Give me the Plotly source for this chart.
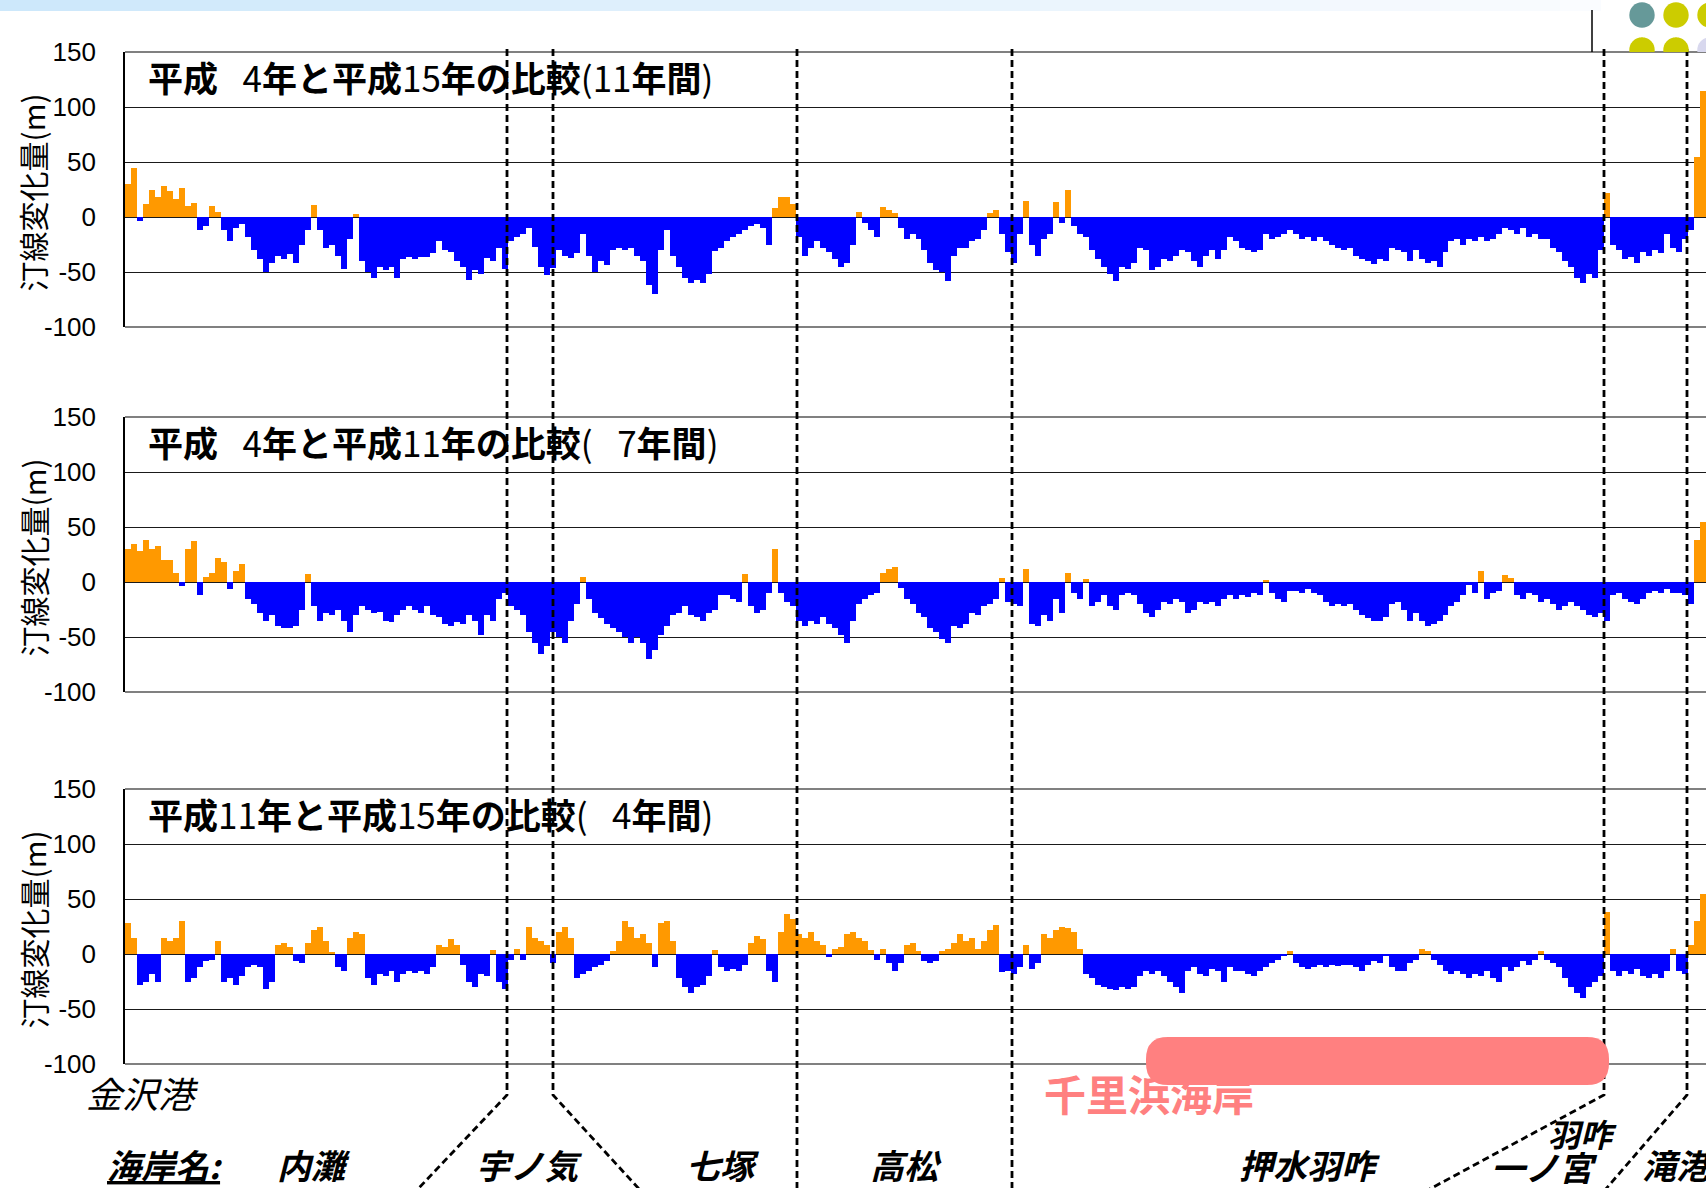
import numpy as np
import plotly.graph_objects as go

W, H = 1706, 1188

# ---------------- data ----------------
panel_titles = [
    "<b>平成</b>\u2002\u20094<b>年と平成</b>15<b>年の比較</b>(11<b>年間</b>)",
    "<b>平成</b>\u2002\u20094<b>年と平成</b>11<b>年の比較</b>(\u2002\u20097<b>年間</b>)",
    "<b>平成</b>11<b>年と平成</b>15<b>年の比較</b>(\u2002\u20094<b>年間</b>)",
]
y_title = "汀線変化量(m)"
y_ticks = [-100, -50, 0, 50, 100, 150]
y_tick_text = ["-100", "-50", "0", "50", "100", "150"]

# shoreline change (m) along the coast, Kanazawa port -> Takinominato
change_h4_h15 = [
    30, 45, -4, 12, 25, 18, 28, 24, 16, 26,
    10, 13, -12, -8, 10, 5, -12, -22, -10, -6,
    -18, -30, -38, -50, -42, -35, -38, -34, -42, -25,
    -12, 11, -12, -28, -25, -35, -47, -20, 3, -40,
    -50, -55, -45, -48, -45, -55, -38, -36, -38, -36,
    -36, -33, -22, -30, -32, -40, -45, -57, -48, -52,
    -37, -40, -28, -47, -22, -18, -15, -10, -27, -45,
    -53, -46, -30, -35, -37, -33, -15, -35, -50, -40,
    -44, -30, -28, -30, -28, -35, -40, -62, -70, -30,
    -12, -35, -45, -55, -60, -57, -60, -52, -31, -28,
    -22, -18, -15, -12, -8, -6, -10, -25, 8, 18,
    18, 12, -18, -35, -28, -22, -28, -32, -38, -45,
    -42, -25, 5, -5, -12, -18, 9, 6, 4, -10,
    -20,
    -15, -20, -30, -42, -48, -50, -58, -35, -28, -28,
    -22, -20, -12, 4, 6, -15, -32, -42, -15, 15,
    -25, -35, -20, -15, 14, -5, 25, -8, -15, -18,
    -30, -38, -45, -52, -58, -45, -47, -42, -28, -30,
    -48, -45, -38, -40, -35, -30, -32, -40, -45, -35,
    -30, -38, -30, -18, -22, -28, -30, -32, -30, -15,
    -20, -18, -15, -12, -15, -20, -18, -22, -18, -22,
    -25, -28, -30, -28, -35, -38, -40, -43, -38, -40,
    -28, -30, -32, -40, -30, -38, -42, -40, -45, -32,
    -22, -20, -25, -20, -22, -18, -22, -20, -15, -10,
    -12, -15, -10, -18, -15, -20, -20, -28, -32, -40,
    -45, -55, -60, -52, -55, -30, 22, -25, -30, -38,
    -36, -42, -32, -35, -30, -33, -15, -28, -32, -20,
    -12, 55, 115,
]

change_h4_h11 = [
    30, 35, 28, 38, 30, 33, 20, 20, 8, -4,
    30, 37, -12, 5, 8, 22, 18, -6, 10, 16,
    -15, -20, -28, -35, -30, -40, -42, -42, -40, -25,
    7, -22, -35, -28, -30, -25, -35, -45, -30, -22,
    -25, -28, -27, -35, -36, -30, -25, -22, -25, -28,
    -22, -30, -32, -38, -40, -36, -38, -30, -35, -48,
    -30, -35, -15, -10, -22, -25, -30, -45, -55, -65,
    -58, -45, -50, -55, -35, -20, 5, -15, -28, -33,
    -38, -42, -45, -50, -55, -50, -55, -70, -62, -48,
    -40, -30, -28, -22, -30, -32, -35, -28, -25, -12,
    -12, -15, -18, 7, -22, -28, -25, -10, 30, -10,
    -18, -22, -35, -40, -35, -38, -32, -38, -42, -48,
    -55, -35, -20, -15, -12, -10, 8, 12, 14, -5,
    -15,
    -20, -28, -32, -42, -45, -52, -55, -40, -42, -38,
    -28, -30, -22, -20, -15, 4, -18, -20, -22, 12,
    -38, -40, -30, -35, -15, -28, 8, -10, -15, 3,
    -22, -18, -12, -22, -25, -12, -10, -12, -20, -28,
    -32, -25, -18, -20, -15, -18, -28, -25, -18, -20,
    -18, -22, -15, -12, -15, -12, -14, -10, -12, 2,
    -10, -15, -18, -8, -8, -10, -6, -10, -12, -18,
    -22, -20, -22, -20, -25, -30, -33, -35, -35, -32,
    -20, -18, -25, -35, -28, -35, -40, -38, -35, -30,
    -22, -18, -12, -3, -10, 10, -15, -10, -8, 6,
    4, -12, -15, -10, -12, -18, -15, -20, -25, -22,
    -18, -22, -25, -30, -32, -28, -35, -12, -10, -15,
    -18, -20, -15, -10, -8, -10, -6, -10, -10, -12,
    -20, 38, 55,
]

change_h11_h15 = [
    28, 15, -28, -25, -18, -25, 15, 12, 15, 30,
    -25, -22, -12, -6, -5, 12, -25, -22, -28, -20,
    -12, -10, -12, -32, -25, 8, 10, 6, -6, -8,
    10, 22, 25, 12, 2, -12, -15, 15, 20, 18,
    -22, -28, -18, -20, -15, -25, -18, -15, -17, -15,
    -18, -12, 8, 6, 14, 8, -10, -25, -30, -18,
    -20, 4, -25, -32, -5, 5, -5, 25, 15, 12,
    8, -8, 20, 25, 15, -22, -18, -15, -12, -10,
    -6, 3, 12, 30, 25, 15, 18, 10, -12, 28,
    30, 12, -22, -30, -35, -30, -28, -20, 4, -12,
    -15, -14, -15, -10, 10, 16, 14, -15, -25, 20,
    36, 32, 18, 15, 20, 12, 8, -3, 5, 6,
    18, 20, 15, 12, 4, -5, 5, -8, -15, -8,
    8,
    10, 3, -6, -8, -6, 3, 5, 10, 18, 12,
    15, 5, 12, 22, 26, -16, -15, -18, -12, 8,
    -14, -8, 18, 15, 22, 25, 24, 20, 5, -18,
    -22, -28, -30, -32, -33, -30, -32, -30, -20, -15,
    -18, -15, -20, -25, -30, -35, -15, -12, -18, -20,
    -14, -15, -25, -12, -15, -15, -18, -20, -15, -12,
    -8, -5, -2, 3, -8, -12, -14, -12, -10, -12,
    -10, -11, -10, -10, -12, -15, -10, -6, -8, -2,
    -12, -15, -15, -8, -5, 5, 3, -5, -10, -15,
    -18, -15, -18, -22, -18, -20, -15, -22, -25, -12,
    -15, -12, -6, -10, -5, 3, -5, -8, -12, -22,
    -30, -35, -40, -30, -25, -20, 38, -15, -20, -15,
    -18, -14, -20, -22, -18, -22, -15, 5, -15, -18,
    8, 30, 55,
]

series = [change_h4_h15, change_h4_h11, change_h11_h15]

port_label = "金沢港"
beach_label = "千里浜海岸"
coast_header = "海岸名:"
coast_names = ["内灘", "宇ノ気", "七塚", "高松", "押水羽咋", "一ノ宮", "滝港"]
coast_sub = "羽咋"

# ---------------- styling / geometry ----------------
ORANGE = "#FF9900"
BLUE = "#0000FF"
PINK = "#FF8080"
JP = "Noto Sans CJK JP"
LAT = "Liberation Sans"

X_LEFT = 125
panels_px = [(52, 327), (417, 692), (789, 1064)]


def fx(px):
    return px / W


def fy(py):
    return 1 - py / H


def P(a, b):
    return f"{fx(a):.5f},{fy(b):.5f}"


fig = go.Figure()
layout = dict(
    width=W, height=H, autosize=False,
    margin=dict(l=0, r=0, t=0, b=0, pad=0, autoexpand=False),
    paper_bgcolor="white", plot_bgcolor="white",
    bargap=0, showlegend=False,
)
annotations = []
shapes = []

# top gradient band
nstrip = 40
for k in range(nstrip):
    t = k / (nstrip - 1)
    r = int(205 + (250 - 205) * t)
    g = int(232 + (252 - 232) * t)
    b = int(251 + (255 - 251) * t)
    shapes.append(dict(type="rect", xref="paper", yref="paper",
                       x0=fx(k * 1600 / nstrip), x1=fx((k + 1) * 1600 / nstrip + 1),
                       y0=fy(11), y1=fy(0), line=dict(width=0),
                       fillcolor=f"rgb({r},{g},{b})", layer="below"))

for p, (vals, (top, bot)) in enumerate(zip(series, panels_px)):
    n = len(vals)
    sfx = "" if p == 0 else str(p + 1)
    colors = [ORANGE if v >= 0 else BLUE for v in vals]
    fig.add_trace(go.Bar(x=list(range(n)), y=vals, marker=dict(color=colors, line=dict(width=0)),
                         xaxis="x" + sfx, yaxis="y" + sfx, hoverinfo="skip"))
    layout["xaxis" + sfx] = dict(domain=[fx(X_LEFT), 1], range=[-0.5, n - 0.5],
                                 showticklabels=False, showgrid=False, zeroline=False,
                                 showline=False, ticks="", anchor="y" + sfx, automargin=False)
    layout["yaxis" + sfx] = dict(domain=[fy(bot), fy(top)], range=[-100, 150],
                                 tickvals=y_ticks, ticktext=y_tick_text,
                                 tickfont=dict(family=LAT, size=26, color="black"),
                                 showgrid=True, gridcolor="#1a1a1a", gridwidth=1.2,
                                 zeroline=False, showline=True, linecolor="black", linewidth=1.6,
                                 ticks="", ticklabelstandoff=22, anchor="x" + sfx, automargin=False)
    for yy in (top, bot):
        shapes.append(dict(type="line", xref="paper", yref="paper",
                           x0=fx(X_LEFT), x1=1, y0=fy(yy), y1=fy(yy),
                           line=dict(color="#808080", width=2.2), layer="above"))
    annotations.append(dict(text=panel_titles[p], xref="paper", yref="paper",
                            x=fx(146), y=fy(top + 24), xanchor="left", yanchor="middle",
                            showarrow=False,
                            font=dict(family=JP, size=35, color="black")))
    annotations.append(dict(text=y_title, xref="paper", yref="paper",
                            x=fx(32), y=fy((top + bot) / 2 + 3), xanchor="center", yanchor="middle",
                            textangle=-90, showarrow=False,
                            font=dict(family=JP, size=30, color="black")))

# dashed coast boundaries
dash_paths = [
    [(507, 49), (507, 1095), (417, 1190)],
    [(553, 49), (553, 1095), (640, 1190)],
    [(797, 49), (797, 1190)],
    [(1012, 49), (1012, 1190)],
    [(1604, 49), (1604, 1095), (1428, 1190)],
    [(1687, 49), (1687, 1095), (1605, 1190)],
]
for pts in dash_paths:
    path = "M " + " L ".join(P(a, b) for a, b in pts)
    shapes.append(dict(type="path", xref="paper", yref="paper", path=path,
                       line=dict(color="black", width=2.8, dash="7px,4px"), layer="above"))

# pink rounded bar
x0, x1, y0, y1, rr = 1146, 1609, 1037, 1085, 22
rpath = (f"M {P(x0 + rr, y0)} L {P(x1 - rr, y0)} Q {P(x1, y0)} {P(x1, y0 + rr)} "
         f"L {P(x1, y1 - rr)} Q {P(x1, y1)} {P(x1 - rr, y1)} L {P(x0 + rr, y1)} "
         f"Q {P(x0, y1)} {P(x0, y1 - rr)} L {P(x0, y0 + rr)} Q {P(x0, y0)} {P(x0 + rr, y0)} Z")
shapes.append(dict(type="path", xref="paper", yref="paper", path=rpath,
                   fillcolor=PINK, line=dict(width=0), layer="above"))

# decorative circles top-right
shapes.append(dict(type="line", xref="paper", yref="paper", x0=fx(1592), x1=fx(1592),
                   y0=fy(10), y1=fy(52), line=dict(color="black", width=1.5)))
R = 12.7
for cx, cy, col in [(1642, 15, "#669999"), (1676, 15, "#CCCC00"), (1710, 15, "#CCCC00")]:
    shapes.append(dict(type="circle", xref="paper", yref="paper",
                       x0=fx(cx - R), x1=fx(cx + R), y0=fy(cy + R), y1=fy(cy - R),
                       fillcolor=col, line=dict(width=0), layer="above"))
for cx, cy, col in [(1642, 50, "#CCCC00"), (1676, 50, "#CCCC00"), (1710, 50, "#D8D8EE")]:
    ycut = 52
    a0 = np.arcsin(min(1, (ycut - cy) / R))
    angs = np.linspace(np.pi - a0, 2 * np.pi + a0, 40)
    pts = [(cx + R * np.cos(a), cy + R * np.sin(a)) for a in angs]
    path = "M " + " L ".join(P(a, b) for a, b in pts) + " Z"
    shapes.append(dict(type="path", xref="paper", yref="paper", path=path,
                       fillcolor=col, line=dict(width=0), layer="above"))

# bottom texts
annotations.append(dict(text=port_label, xref="paper", yref="paper", x=fx(142), y=fy(1092),
                        xanchor="center", yanchor="middle", showarrow=False,
                        font=dict(family=JP, size=36, color="black", style="italic")))
annotations.append(dict(text=beach_label, xref="paper", yref="paper", x=fx(1042), y=fy(1092),
                        xanchor="left", yanchor="middle", showarrow=False,
                        font=dict(family=JP, size=42, color=PINK, weight="bold")))
lab_font = dict(family=JP, size=34, color="black", weight="bold", style="italic")
ROW = 1164
annotations.append(dict(text="<u>" + coast_header + "</u>", xref="paper", yref="paper",
                        x=fx(105), y=fy(ROW), xanchor="left", yanchor="middle",
                        showarrow=False, font=lab_font))
name_pos = [(314, ROW, "center"), (529, ROW, "center"), (722, ROW, "center"),
            (906, ROW, "center"), (1309, ROW, "center"), (1544, ROW + 2, "center"),
            (1640, ROW, "left")]
for name, (xx, yy, anc) in zip(coast_names, name_pos):
    annotations.append(dict(text=name, xref="paper", yref="paper", x=fx(xx), y=fy(yy),
                            xanchor=anc, yanchor="middle", showarrow=False, font=lab_font))
annotations.append(dict(text=coast_sub, xref="paper", yref="paper", x=fx(1582), y=fy(1133),
                        xanchor="center", yanchor="middle", showarrow=False,
                        font=dict(family=JP, size=32, color="black", weight="bold", style="italic")))

layout["shapes"] = shapes
layout["annotations"] = annotations
fig.update_layout(**layout)

fig.write_html("out.html", config={"displayModeBar": False},
               post_script="document.body.style.margin='0';document.body.style.overflow='hidden';")
